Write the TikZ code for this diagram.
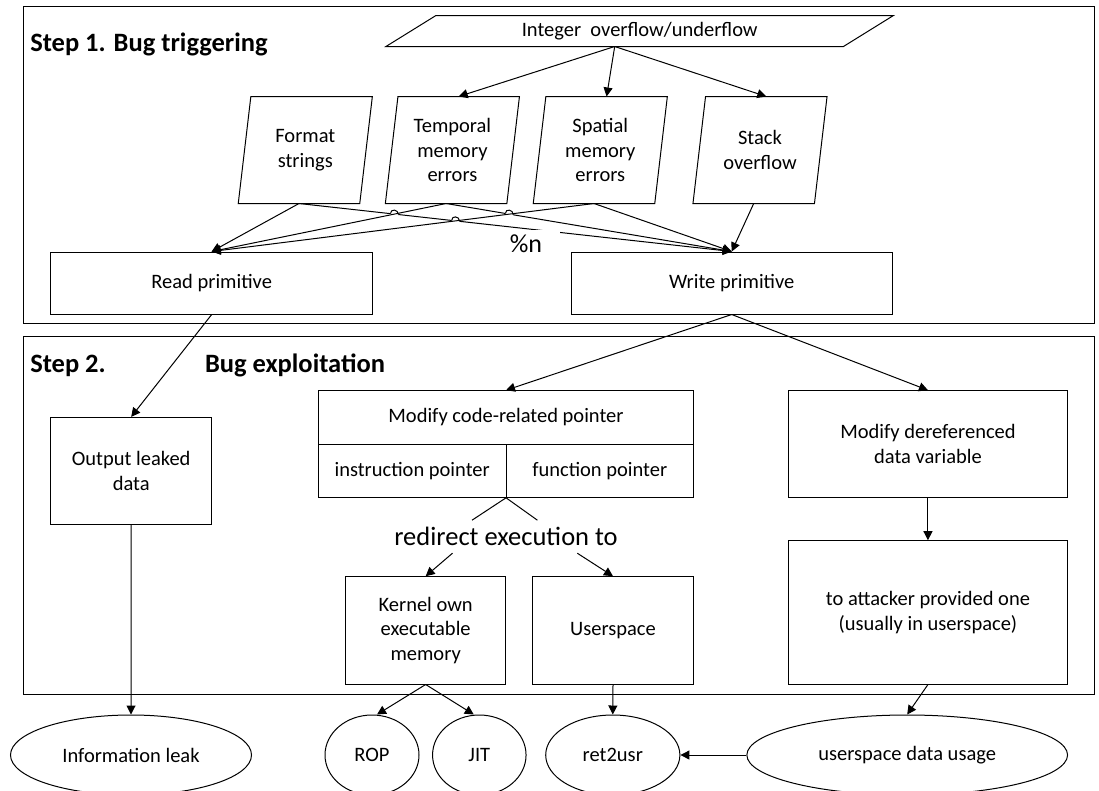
\documentclass[tikz,border=0pt]{standalone}
\usepackage{fontspec}
\setmainfont{Carlito}
\usetikzlibrary{arrows.meta,shapes.geometric,calc,intersections}
\newcommand\pgramdraw[2]{\draw ([xshift=-#2]#1.south west) -- ([xshift=-#2]#1.south east) -- ([xshift=#2]#1.north east) -- ([xshift=#2]#1.north west) -- cycle;}
\newcommand\hopon[3]{%
  \draw[white, line width=2.6pt] ($(#1)!4pt!(#2)$) -- ($(#1)!4pt!(#3)$);
  \draw ($(#1)!4pt!(#2)$) .. controls +(0,-5.3) and +(0,-5.3) .. ($(#1)!4pt!(#3)$);}
\begin{document}
\begin{tikzpicture}[x=1pt,y=-1pt,
  line width=1pt,
  arr/.style={-{Triangle[length=9pt,width=9pt]}},
  bodyfont/.style={font=\fontsize{20.5}{24.8}\selectfont},
  box/.style={draw, rectangle, inner sep=0pt, align=center, bodyfont},
  txt/.style={inner sep=0pt, align=center, bodyfont},
  ell/.style={draw, ellipse, inner sep=0pt, bodyfont},
  ttl/.style={inner sep=0pt, anchor=base west, font=\fontsize{26.5}{30}\selectfont\bfseries},
  frame/.style={draw, rectangle, inner sep=0pt},
]
\useasboundingbox (0,0) rectangle (1099,790);

% frames
\node[frame, minimum width=1070.6pt, minimum height=317pt] (f1) at (559.2,164.5) {};
\node[frame, minimum width=1070.6pt, minimum height=357.6pt] (f2) at (559.2,515.5) {};
\node[ttl] (t1) at (29.8,51.5) {Step 1. Bug triggering};
\node[ttl] (t2a) at (29.8,372.7) {Step 2.};
\node[ttl] (t2b) at (204.5,372.7) {Bug exploitation};

% step 1
\node[txt, minimum width=456.5pt, minimum height=30pt] (int) at (639.7,31) {Integer\ \ overflow/underflow};
\pgramdraw{int}{25pt}
\coordinate (intb) at ([xshift=-25pt]int.south);

\node[txt, minimum width=120.5pt, minimum height=106pt] (fmt) at (305.3,150) {Format\\strings};
\node[txt, minimum width=120.5pt, minimum height=106pt] (tmp) at (452.4,150) {Temporal\\memory\\errors};
\node[txt, minimum width=120.5pt, minimum height=106pt] (spa) at (600.3,150) {Spatial\\memory\\errors};
\node[txt, minimum width=120.5pt, minimum height=106pt] (stk) at (760,150) {Stack\\overflow};
\foreach \n in {fmt,tmp,spa,stk}{
  \pgramdraw{\n}{6.3pt}
  \coordinate (\n t) at ([xshift=6.3pt]\n.north);
  \coordinate (\n b) at ([xshift=-6.3pt]\n.south);
}

\node[box, minimum width=321.6pt, minimum height=62pt] (rp) at (211.7,283) {Read primitive};
\node[box, minimum width=321.4pt, minimum height=62pt] (wp) at (731.7,283) {Write primitive};

\draw[arr] (intb) -- (tmpt);
\draw[arr] (intb) -- (spat);
\draw[arr] (intb) -- (stkt);

\draw[arr] (fmtb) -- (rp.north);
\draw[arr] (stkb) -- (wp.north);
\draw[arr] (spab) -- (wp.north);
\draw[arr] (fmtb) -- (wp.north);
\draw[arr] (tmpb) -- (wp.north);

\path[name path=fw] (fmtb) -- (wp.north);
\path[name path=tw] (tmpb) -- (wp.north);
\path[name path=tr] (tmpb) -- (rp.north);
\path[name path=sr] (spab) -- (rp.north);
\path[name intersections={of=fw and tr, by=h1}];
\path[name intersections={of=fw and sr, by=h2}];
\path[name intersections={of=tw and sr, by=h3}];
\hopon{h1}{fmtb}{wp.north}
\hopon{h2}{fmtb}{wp.north}
\hopon{h3}{tmpb}{wp.north}

\draw[arr] (tmpb) -- (rp.north);
\draw[arr] (spab) -- (rp.north);

\node[fill=white, inner sep=0pt, minimum width=40pt, minimum height=26pt] (pnbg) at (540,243) {};
\node[inner sep=0pt, font=\fontsize{26}{30}\selectfont] (pn) at (526,243.5) {\%n};

% step 2
\node[box, minimum width=160.6pt, minimum height=106.7pt] (out) at (131.2,470.7) {Output leaked\\data};

\node[draw, rectangle, inner sep=0pt, minimum width=375.1pt, minimum height=106.6pt] (mc) at (506.05,444) {};
\draw (mc.west) -- (mc.east);
\draw (mc.center) -- (mc.south);
\node[txt] (mct) at (506,417.3) {Modify code-related pointer};
\node[txt] (ip) at (412.2,470.7) {instruction pointer};
\node[txt] (fp) at (599.8,470.7) {function pointer};

\node[box, minimum width=279.1pt, minimum height=106.6pt] (dr) at (927.95,444) {Modify dereferenced\\data variable};
\node[box, minimum width=279.1pt, minimum height=143.3pt] (att) at (927.95,612.35) {to attacker provided one\\(usually in userspace)};

\node[inner sep=0pt, minimum height=32pt, font=\fontsize{26.5}{30}\selectfont] (rd) at (506,536.7) {redirect execution to};

\node[box, minimum width=160.3pt, minimum height=107.3pt] (kern) at (425.65,630.35) {Kernel own\\executable\\memory};
\node[box, minimum width=161.2pt, minimum height=107.3pt] (us) at (613,630.35) {Userspace};

\node[ell, minimum width=241pt, minimum height=80pt] (info) at (131,755) {Information leak};
\node[ell, minimum width=94pt, minimum height=80pt] (rop) at (372,755) {ROP};
\node[ell, minimum width=93.5pt, minimum height=80pt] (jit) at (479.3,755) {JIT};
\node[ell, minimum width=134.2pt, minimum height=80pt] (ret) at (612.8,755) {ret2usr};
\node[ell, minimum width=320.7pt, minimum height=80pt] (uds) at (907.2,755) {userspace data usage};

\draw[arr] (rp.south) -- (out.north);
\draw[arr] (out.south) -- (info.north);
\draw[arr] (wp.south) -- (mc.north);
\draw[arr] (wp.south) -- (dr.north);
\draw (mc.south) -- ([xshift=-34pt]rd.north);
\draw (mc.south) -- ([xshift=31.4pt]rd.north);
\draw[arr] ([xshift=-53.5pt]rd.south) -- (kern.north);
\draw[arr] ([xshift=71.3pt]rd.south) -- (us.north);
\draw[arr] (kern.south) -- ([xshift=5pt]rop.north);
\draw[arr] (kern.south) -- ([xshift=-5.5pt]jit.north);
\draw[arr] (us.south) -- (ret.north);
\draw[arr] (dr.south) -- (att.north);
\draw[arr] (att.south) -- (uds.north);
\draw[arr] (uds.west) -- (ret.east);
\end{tikzpicture}
\end{document}
